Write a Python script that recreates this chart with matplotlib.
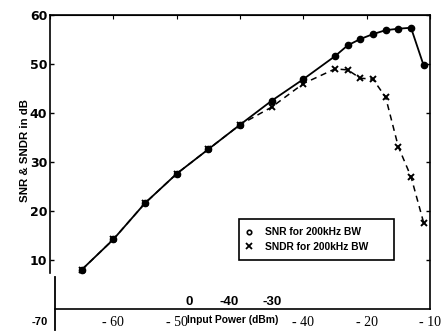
import matplotlib.pyplot as plt
from matplotlib.lines import Line2D

# input power (dBm) and measured values (dB)
power = [-65, -60, -55, -50, -45, -40, -35, -30, -25, -23, -21, -19, -17, -15, -13, -11]
snr = [8.0, 14.2, 21.6, 27.6, 32.6, 37.6, 42.5, 46.9, 51.6, 53.8, 55.1, 56.1, 56.9, 57.2, 57.4, 49.7]
sndr = [8.0, 14.2, 21.6, 27.6, 32.6, 37.6, 41.2, 46.0, 49.0, 48.8, 47.1, 46.9, 43.2, 33.1, 27.0, 17.6]

y_ticks = [10, 20, 30, 40, 50, 60]
x_ticks = [-60, -50, -30, -20, -10]
x_tick_labels = ['- 60', '- 50', '- 40', '- 20', '- 10']
top_ticks = [-70, -60, -50, -40, -30, -20, -10]
legend_labels = ['SNR for 200kHz BW', 'SNDR for 200kHz BW']

fig = plt.figure(figsize=(4.42, 3.32), dpi=100)
ax = fig.add_axes([50 / 442, 1 - 309 / 332, 380 / 442, 294 / 332])

ax.plot(power, sndr, color='black', lw=1.1, dashes=(4, 3), marker='x',
        markersize=5, mew=1.4)
ax.plot(power, snr, color='black', lw=1.3, marker='o', markersize=4.5)

ax.set_xlim(-70, -10)
ax.set_ylim(0, 60)

ax.set_yticks(y_ticks)
ax.set_yticklabels([str(v) for v in y_ticks], fontsize=9, fontweight='bold',
                   family='DejaVu Sans')
ax.tick_params(axis='y', direction='in', length=3, width=1, right=True, pad=2)

ax.set_xticks(x_ticks)
ax.set_xticklabels(x_tick_labels, fontsize=10, family='Liberation Serif')
ax.tick_params(axis='x', length=0, pad=5)
top = ax.secondary_xaxis('top')
top.set_xticks(top_ticks)
top.tick_params(direction='in', length=3, labeltop=False)

for s in ['left', 'right', 'top', 'bottom']:
    ax.spines[s].set_linewidth(1.2)
ax.spines['left'].set_bounds(7.3, 60)
ax.spines['bottom'].set_bounds(-69.2, -10)
ax.axvline(-69.2, ymin=-0.07, ymax=0.11, color='black', lw=1.3, clip_on=False)

ax.set_ylabel('SNR & SNDR in dB', fontsize=8.2, family='Liberation Sans',
              fontweight='bold')
ax.yaxis.set_label_coords(-0.052, 0.54)
ax.set_xlabel('Input Power (dBm)', fontsize=7.4, family='Liberation Sans',
              fontweight='bold')
ax.xaxis.set_label_coords(0.481, -0.02)

# stray labels left on the scanned axis
ax.text(-71.6, -1.6, '-70', fontsize=8, fontweight='bold', ha='center', va='top',
        family='Liberation Sans', clip_on=False)
for xv, t in zip([-48.1, -41.7, -35.0], ['0', '-40', '-30']):
    ax.text(xv, 0.2, t, fontsize=9.5, fontweight='bold', ha='center', va='bottom',
            family='Liberation Sans')

handles = [Line2D([], [], ls='none', marker='o', mfc='none', mec='black',
                  markersize=3.2, mew=1.2),
           Line2D([], [], ls='none', marker='x', color='black', markersize=3.8, mew=1.3)]
x0 = (239 - 50) / 380
x1 = (394 - 50) / 380
y_top = (309 - 219) / 294
leg = ax.legend(handles, legend_labels, loc='upper left', mode='expand',
                bbox_to_anchor=(x0, y_top - 0.2, x1 - x0, 0.2),
                prop={'size': 7.4, 'weight': 'bold', 'family': 'Liberation Sans'},
                frameon=True, fancybox=False, edgecolor='black', framealpha=1,
                borderpad=0.8, handlelength=0.4, handletextpad=1.3,
                labelspacing=0.45, borderaxespad=0)
leg.get_frame().set_linewidth(1.2)

fig.savefig('out.png', dpi=100)
